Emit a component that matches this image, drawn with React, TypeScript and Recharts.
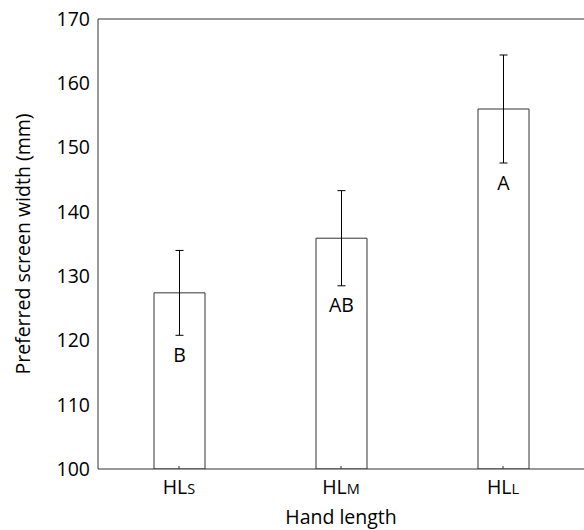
import React from "react";
import {
  BarChart,
  Bar,
  XAxis,
  YAxis,
  ErrorBar,
  LabelList,
  ReferenceLine,
} from "recharts";

const groups = ["HLS", "HLM", "HLL"];
const means = [127.4, 135.9, 156.0];
const errs = [6.6, 7.4, 8.4];
const letters = ["B", "AB", "A"];
const yTicks = [100, 110, 120, 130, 140, 150, 160, 170];

const data = groups.map((g, i) => ({
  group: g,
  width: means[i],
  err: errs[i],
  letter: letters[i],
}));

const FONT = "'Open Sans', sans-serif";
const INK = "#333";

// "HL" with the size letter set in small capitals
function HandTick(props: any) {
  const { x, y, payload } = props;
  const name: string = payload.value;
  return (
    <g>
      <line x1={x} y1={y} x2={x} y2={y - 3} stroke={INK} />
      <text
        x={x}
        y={y + 25}
        textAnchor="middle"
        fontFamily={FONT}
        fontSize={19.5}
        fill="#000"
      >
        {name.slice(0, 2)}
        <tspan fontSize={14.5}>{name.slice(2)}</tspan>
      </text>
    </g>
  );
}

function YTitle(props: any) {
  const vb = props.viewBox || {};
  const cx = 22;
  const cy = (vb.y ?? 0) + (vb.height ?? 0) / 2;
  return (
    <text
      x={cx}
      y={cy}
      transform={`rotate(-90, ${cx}, ${cy})`}
      textAnchor="middle"
      dominantBaseline="central"
      fontFamily={FONT}
      fontSize={19.5}
      fill="#000"
    >
      Preferred screen width (mm)
    </text>
  );
}

function LetterLabel(props: any) {
  const { x, y, width, height, index } = props;
  const row = data[index];
  if (!row) return null;
  const perUnit = height / (row.width - 100);
  const low = y + row.err * perUnit;
  return (
    <text
      x={x + width / 2}
      y={low + 19}
      textAnchor="middle"
      dominantBaseline="central"
      fontFamily={FONT}
      fontSize={19.5}
      fill="#000"
    >
      {row.letter}
    </text>
  );
}

export default function App() {
  return (
    <div style={{ position: "absolute", left: 0, top: 0, background: "#fff" }}>
      <BarChart
        width={584}
        height={530}
        data={data}
        margin={{ top: 19, right: 0, bottom: 0, left: 0 }}
      >
        <XAxis
          dataKey="group"
          height={61}
          stroke={INK}
          tickLine={false}
          tickSize={0}
          tickMargin={0}
          tick={<HandTick />}
          label={{
            value: "Hand length",
            position: "insideBottom",
            offset: 6,
            fontFamily: FONT,
            fontSize: 19.5,
            fill: "#000",
          }}
        />
        <YAxis
          width={98}
          domain={[100, 170]}
          ticks={yTicks}
          allowDataOverflow
          stroke={INK}
          tickLine={false}
          tick={{ fontFamily: FONT, fontSize: 19.5, fill: "#000" }}
          label={<YTitle />}
        />
        <ReferenceLine y={170} stroke={INK} />
        <Bar
          dataKey="width"
          barSize={51}
          fill="#fff"
          stroke={INK}
          strokeWidth={1}
          isAnimationActive={false}
        >
          <ErrorBar dataKey="err" width={4} stroke="#000" strokeWidth={1} />
          <LabelList dataKey="letter" content={<LetterLabel />} />
        </Bar>
      </BarChart>
    </div>
  );
}
